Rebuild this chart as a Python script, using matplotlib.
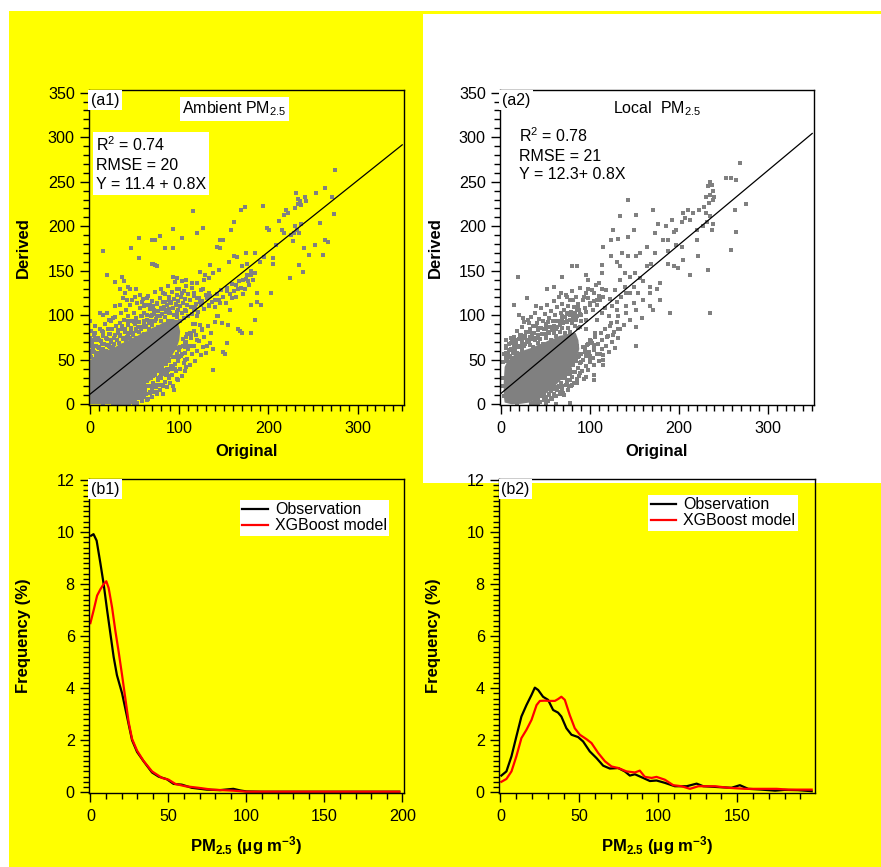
import numpy as np
import matplotlib.pyplot as plt
from matplotlib.patches import Rectangle
from matplotlib.ticker import MultipleLocator

plt.rcParams['font.family'] = ['Liberation Sans', 'DejaVu Sans']
plt.rcParams['mathtext.fontset'] = 'custom'
plt.rcParams['mathtext.rm'] = 'Liberation Sans'
plt.rcParams['mathtext.it'] = 'Liberation Sans:italic'
plt.rcParams['mathtext.bf'] = 'Liberation Sans:bold'

# --- data ---
# (a1) ambient PM2.5: saturated core outline + individual points outside it
a1_core_x = [0, 22, 30, 38, 44, 50, 56, 62, 68, 74, 80, 86, 92, 97, 100, 101, 99, 94, 88, 82,
             76, 70, 64, 58, 52, 46, 40, 34, 28, 22, 16, 10, 5, 0]
a1_core_y = [0, 0, 2, 4, 9, 13, 17, 23, 27, 34, 40, 47, 55, 63, 72, 82, 90, 96, 93, 92,
             88, 86, 82, 80, 76, 74, 70, 68, 64, 62, 58, 56, 52, 50]
a1_pts = [
    # sparse outer points
    (275, 263), (263, 243), (253, 237), (271, 233), (273, 214), (231, 237), (233, 231), (235, 228),
    (233, 225), (237, 224), (230, 220), (241, 233), (242, 228), (220, 218), (222, 215), (218, 213),
    (212, 206), (215, 196), (217, 192), (230, 200), (232, 196), (229, 192), (234, 192), (237, 203),
    (225, 190), (227, 183), (240, 175), (245, 168), (234, 157), (239, 149), (252, 179), (258, 204),
    (263, 185), (267, 182), (261, 168), (224, 142), (198, 198), (201, 196), (208, 179), (205, 164),
    (205, 158), (203, 125), (194, 223), (169, 218), (174, 222), (158, 196), (161, 205), (146, 185),
    (142, 177), (146, 175), (149, 185), (127, 198), (120, 192), (115, 217), (103, 187), (93, 197),
    (84, 176), (93, 175), (70, 184), (73, 185), (78, 189), (55, 187), (46, 176), (15, 172),
    (69, 158), (71, 158), (73, 157), (75, 155), (55, 164), (19, 145), (36, 143), (38, 138),
    (43, 132), (45, 129), (28, 137), (34, 129), (39, 125), (52, 129), (56, 123), (64, 119),
    (93, 143), (97, 142), (108, 140), (114, 136), (123, 149), (129, 145), (133, 142), (135, 157),
    (138, 147), (145, 151), (156, 160), (161, 166), (165, 165), (170, 155), (176, 158), (177, 138),
    (174, 130), (183, 140), (181, 112), (187, 115), (153, 127), (159, 119), (157, 106), (164, 134),
    (166, 129), (166, 84), (170, 80), (153, 69), (149, 59), (151, 57), (138, 39), (131, 65),
    (144, 99), (148, 91), (155, 89), (140, 117), (146, 114), (127, 129), (133, 125), (116, 125),
    (120, 119), (123, 115), (120, 99), (123, 89), (125, 84), (108, 76), (114, 65), (120, 72),
    (107, 50), (108, 42), (93, 20), (99, 27), (82, 20), (73, 22), (93, 42), (86, 35),
    (78, 31), (64, 20), (56, 16), (49, 12), (41, 9), (32, 1), (15, 1), (78, 52),
    (86, 55), (71, 46), (11, 84), (9, 72), (4, 72), (2, 65), (0, 93), (6, 80),
    (15, 100), (19, 102), (21, 95), (26, 97), (11, 102), (28, 110), (34, 112), (37, 119),
    (41, 117), (47, 117), (50, 121), (58, 115), (60, 110), (67, 112), (75, 114), (82, 125),
    (84, 115), (88, 117), (97, 129), (103, 125), (172, 140), (176, 145), (180, 150), (185, 148),
    (190, 160), (195, 165), (185, 170), (175, 170), (187, 125), (192, 112), (185, 95), (180, 80),
    (168, 82), (142, 99), (133, 110), (0, 55), (1, 60), (0, 70), (0, 75), (1, 82),
    # speckle above the core
    (1, 53), (3, 61), (2, 70), (6, 51), (7, 66), (8, 58), (4, 78), (9, 74), (5, 88), (10, 63),
    (11, 56), (12, 71), (13, 82), (14, 62), (15, 77), (16, 68), (17, 90), (18, 60), (19, 73), (20, 85),
    (21, 66), (22, 79), (23, 93), (24, 70), (25, 84), (26, 64), (27, 75), (28, 98), (29, 88), (30, 72),
    (31, 80), (32, 69), (33, 91), (34, 77), (35, 102), (36, 85), (37, 73), (38, 95), (39, 81), (40, 106),
    (41, 76), (42, 89), (43, 99), (44, 80), (45, 111), (46, 86), (47, 94), (48, 78), (49, 103), (50, 90),
    (51, 82), (52, 97), (53, 114), (54, 87), (55, 92), (56, 108), (57, 84), (58, 99), (59, 118), (60, 91),
    (61, 103), (62, 88), (63, 112), (64, 95), (65, 122), (66, 91), (67, 107), (68, 99), (69, 116), (70, 94),
    (71, 110), (72, 101), (73, 126), (74, 96), (75, 113), (76, 105), (77, 99), (78, 119), (79, 108), (80, 130),
    (81, 101), (82, 115), (83, 109), (84, 124), (85, 104), (86, 112), (87, 133), (88, 107), (89, 120), (90, 102),
    (91, 114), (92, 126), (93, 108), (94, 118), (95, 137), (96, 111), (97, 123), (98, 104), (99, 116), (100, 129),
    (101, 110), (102, 121), (103, 139), (104, 114), (105, 127), (106, 106), (107, 118), (108, 133), (109, 112),
    (110, 124), (112, 117), (114, 131), (116, 122), (118, 109), (120, 136), (122, 119), (124, 128), (126, 114),
    (128, 140), (130, 123),
    (1, 53.5), (3, 65), (4, 59), (6, 74), (7, 54), (9, 64), (10, 72.5), (12, 60), (13, 68), (15, 81),
    (16, 59), (18, 74), (19, 67), (21, 79.5), (22, 64), (24, 72), (25, 84), (27, 68), (28, 78), (30, 72.5),
    (31, 83), (33, 65), (34, 78), (36, 88), (37, 74), (39, 85), (40, 71), (42, 79), (43, 94), (45, 75),
    (46, 85), (48, 80), (49, 92), (51, 74), (52, 85), (54, 92), (55, 81), (57, 99), (58, 87), (60, 79),
    (61, 93.5), (63, 87), (64, 100), (66, 84), (67, 93), (69, 100), (70, 88.5), (72, 106), (73, 93), (75, 99),
    (76, 87), (78, 99), (79, 93), (81, 107.5), (82, 88), (84, 98), (85, 106), (87, 94), (88, 102), (90, 114.5),
    (91, 93), (93, 108), (94, 100), (96, 113), (97, 98), (99, 106),
    # speckle below the core
    (26, 1), (28, 4), (29, 0.5), (31, 2), (33, 6), (34, 1), (36, 8), (35, 3),
    (37, 5), (38, 1), (39, 10), (40, 3), (41, 7), (42, 13), (43, 2), (44, 9), (45, 5),
    (46, 14), (47, 8), (48, 3), (49, 11), (50, 6), (51, 17), (52, 9), (53, 2), (54, 13), (55, 7),
    (56, 19), (57, 11), (58, 4), (59, 15), (60, 22), (61, 9), (62, 17), (63, 12), (64, 26), (65, 6),
    (66, 20), (67, 13), (68, 29), (69, 17), (70, 8), (71, 24), (72, 14), (73, 33), (74, 19), (75, 11),
    (76, 27), (77, 37), (78, 16), (79, 30), (80, 22), (81, 41), (82, 12), (83, 34), (84, 25), (85, 45),
    (86, 19), (87, 38), (88, 29), (89, 49), (90, 24), (91, 42), (92, 33), (93, 53), (94, 16), (95, 45),
    (96, 37), (97, 57), (98, 28), (99, 49), (100, 61), (101, 40), (102, 54), (103, 32), (104, 66), (105, 46),
    (106, 58), (107, 37), (108, 70), (109, 51), (110, 62), (112, 44), (113, 74), (114, 56), (116, 66),
    (118, 49), (119, 78), (120, 60), (122, 71), (124, 55), (125, 83), (127, 64), (128, 76), (130, 58),
    (132, 88), (134, 69), (136, 80), (138, 62), (140, 92),
    (40, 3.2), (41, 0.5), (43, 3.3), (44, 0.5), (46, 9.4), (47, 5), (49, 1.2), (50, 10), (52, 7.3), (53, 1.1),
    (55, 15.8), (56, 8.4), (58, 14.7), (59, 8.5), (61, 18.4), (62, 13.1), (64, 4.3), (65, 20.6), (67, 14),
    (68, 20.4), (70, 13.4), (71, 31.5), (73, 21.3), (74, 14.2), (76, 29.7), (77, 21.7), (79, 36.8), (80, 31.5),
    (82, 20), (83, 39), (85, 33.4), (86, 39.8), (88, 32), (89, 50.1), (91, 43.2), (92, 39.3), (94, 52.6),
    (95, 39.3), (97, 53.1), (98, 63.2), (100, 53.6), (101, 63.9), (103, 56.1), (104, 73.4), (106, 68.3),
    (107, 64.9), (109, 78.7), (110, 65.4), (112, 80), (113, 77.5), (115, 90.3), (116, 82.4), (118, 90.7),
    # cloud continuing along the fit line
    (96, 92), (98, 99), (101, 94), (103, 102), (105, 97), (108, 105), (110, 99), (113, 109), (114, 101),
    (117, 106), (119, 113), (121, 104), (124, 111), (126, 116), (128, 107), (131, 119), (133, 112),
    (135, 122), (137, 115), (140, 109), (142, 124), (145, 117), (147, 128), (149, 121), (152, 114),
    (154, 131), (157, 124), (159, 135), (161, 127), (164, 120), (167, 138), (169, 131), (172, 124),
    (175, 141), (178, 134), (181, 145),
]
a1_fit = (11.4, 0.8)

# (a2) local PM2.5
a2_core_x = [4, 12, 22, 32, 40, 48, 55, 62, 68, 74, 80, 85, 88, 87, 84, 78, 72, 66, 60, 54,
             48, 42, 36, 30, 24, 18, 12, 7, 4, 3, 3]
a2_core_y = [2, 0, 0.5, 2, 6, 10, 16, 22, 28, 35, 42, 52, 62, 72, 80, 80, 78, 77, 74, 72,
             69, 67, 64, 62, 60, 58, 53, 48, 42, 25, 10]
a2_pts = [
    # sparse outer points
    (269, 271), (253, 254), (259, 254), (264, 252), (275, 225), (263, 218), (264, 193), (259, 173),
    (235, 250), (237, 246), (233, 245), (238, 239), (240, 233), (235, 235), (231, 233), (238, 230),
    (234, 226), (228, 222), (223, 218), (230, 215), (235, 211), (232, 205), (238, 203), (227, 200),
    (237, 196), (220, 196), (216, 215), (210, 218), (212, 207), (207, 209), (205, 215), (203, 205),
    (197, 196), (194, 194), (192, 207), (222, 166), (233, 151), (235, 102), (220, 185), (213, 145),
    (205, 162), (199, 153), (194, 155), (188, 158), (203, 177), (197, 179), (188, 185), (190, 102),
    (179, 117), (171, 218), (177, 202), (173, 192), (186, 200), (182, 185), (188, 172), (143, 230),
    (152, 213), (149, 196), (143, 188), (134, 211), (126, 196), (124, 185), (132, 186), (136, 170),
    (143, 166), (152, 166), (156, 170), (164, 177), (169, 158), (173, 170), (115, 177), (114, 157),
    (113, 147), (124, 166), (130, 160), (134, 155), (139, 147), (145, 143), (151, 147), (156, 142),
    (164, 155), (160, 138), (134, 140), (139, 132), (141, 125), (149, 132), (154, 125), (160, 117),
    (167, 125), (149, 114), (152, 106), (158, 97), (152, 87), (145, 95), (141, 102), (138, 89),
    (132, 99), (167, 110), (171, 106), (175, 129), (179, 136), (167, 132), (152, 65), (115, 44),
    (104, 27), (80, 155), (85, 155), (96, 145), (98, 140), (68, 143), (59, 132), (52, 129),
    (29, 119), (39, 110), (19, 143), (14, 112), (20, 100), (25, 97), (31, 91), (5, 72),
    (11, 69), (67, 125), (74, 121), (81, 117), (87, 110), (93, 121), (98, 129), (104, 125),
    (110, 136), (113, 130), (108, 117), (100, 114), (115, 121), (3, 9), (9, 5), (18, 1),
    (39, 3), (59, 9), (78, 1), (67, 20), (74, 27), (85, 24), (89, 35), (96, 31),
    (104, 33), (100, 50), (89, 57), (85, 65), (104, 61), (111, 57), (115, 50), (100, 72),
    (106, 80), (96, 84), (89, 87), (81, 95), (74, 102), (85, 106), (96, 95), (108, 95),
    (113, 102), (117, 108), (111, 117), (119, 76), (126, 78), (132, 84), (124, 91), (121, 99),
    (130, 106), (2, 30), (2, 20), (125, 110), (122, 118), (128, 128), (118, 128), (130, 115),
    (135, 120), (140, 110), (145, 125),
    # speckle above the core
    (2, 48), (3, 57), (5, 52), (6, 63), (7, 49), (8, 58), (9, 68), (10, 54),
    (11, 62), (12, 71), (13, 58), (14, 66), (15, 76), (16, 61), (17, 69), (18, 82), (19, 64), (20, 73),
    (21, 66), (22, 78), (23, 87), (24, 69), (25, 75), (26, 92), (27, 68), (28, 81), (29, 72), (30, 95),
    (31, 70), (32, 84), (33, 76), (34, 98), (35, 73), (36, 88), (37, 80), (38, 103), (39, 75), (40, 91),
    (41, 83), (42, 77), (43, 96), (44, 86), (45, 108), (46, 79), (47, 93), (48, 84), (49, 101), (50, 78),
    (51, 90), (52, 112), (53, 81), (54, 97), (55, 87), (56, 105), (57, 83), (58, 94), (59, 116), (60, 88),
    (61, 100), (62, 85), (63, 109), (64, 93), (65, 120), (66, 89), (67, 103), (68, 96), (69, 113), (70, 91),
    (71, 106), (72, 98), (73, 123), (74, 93), (75, 110), (76, 101), (77, 95), (78, 117), (79, 104), (80, 127),
    (81, 96), (82, 109), (83, 102), (84, 120), (85, 99), (86, 113), (88, 106), (89, 131), (90, 100),
    (92, 117), (94, 108), (95, 125), (96, 104), (98, 119), (100, 111), (102, 128), (103, 106), (105, 116),
    (107, 134), (108, 112), (110, 122),
    (5, 57.3), (6, 65.7), (8, 53.6), (9, 61), (11, 74), (12, 52.4), (14, 67.3), (15, 59.8), (17, 72.7),
    (18, 57.1), (20, 65), (21, 77.5), (23, 61.4), (24, 70.8), (26, 65.7), (27, 76.2), (29, 58), (30, 71.5),
    (32, 81.4), (33, 66.9), (35, 77.8), (36, 64.2), (38, 72.1), (39, 87.6), (41, 68.5), (42, 77.9),
    (44, 72.8), (45, 85.3), (47, 67.2), (48, 78.6), (50, 85.5), (51, 74), (53, 91.9), (54, 80.3),
    (56, 72.2), (57, 86.7), (59, 80.6), (60, 93), (62, 76.9), (63, 86.4), (65, 93.3), (66, 81.7),
    (68, 99.6), (69, 86), (71, 92), (72, 80.4), (74, 92.3), (75, 85.8), (77, 100.7), (78, 81.1),
    (80, 91), (81, 99.5), (83, 87.4), (84, 94.8), (86, 107.7), (87, 86.2), (89, 101), (90, 93.5),
    # speckle below the core
    (36, 1), (38, 4), (40, 2), (42, 7), (44, 3), (46, 9), (48, 5), (50, 2),
    (51, 8), (53, 4), (54, 11), (56, 15), (57, 6), (59, 12), (60, 19), (62, 9), (63, 16), (65, 21),
    (66, 12), (67, 24), (69, 17), (70, 29), (71, 10), (73, 22), (74, 34), (75, 16), (77, 27), (78, 38),
    (79, 20), (80, 31), (81, 44), (82, 24), (83, 36), (84, 49), (85, 28), (86, 41), (87, 53), (88, 32),
    (89, 46), (90, 57), (91, 37), (92, 50), (93, 28), (94, 62), (95, 43), (96, 54), (97, 67), (98, 39),
    (99, 59), (100, 48), (101, 71), (103, 52), (104, 64), (105, 44), (106, 76), (108, 57), (109, 68),
    (110, 49), (112, 80), (113, 62), (114, 72), (115, 55), (117, 84), (118, 66), (120, 77), (121, 59),
    (123, 88), (125, 70), (127, 81), (128, 63), (130, 92), (132, 74), (134, 85),
    (34, 0.6), (36, 0.5), (40, 2.4), (42, 0.5), (44, 2.6), (48, 10), (50, 3.9), (54, 10.8), (56, 6.8),
    (58, 16.8), (60, 11.3), (62, 0.5), (64, 19.5), (66, 13.4), (68, 20.8), (70, 12.3), (72, 31.8),
    (74, 24.2), (76, 21.1), (78, 34.3), (80, 21.3), (82, 36.1), (84, 48.2), (86, 40.6), (88, 53.9),
    (90, 47.1), (92, 64.4), (94, 58.3), (96, 54.9), (98, 67.7), (100, 54.4), (102, 69), (104, 66.5),
]
a2_fit = (12.3, 0.834)

# (b1) frequency distributions, ambient
b1_obs_x = [0.4, 2, 4, 6.4, 8.5, 10.7, 12.8, 14.9, 17, 20.3, 23.5, 26.7, 29.9, 34.1, 39.5,
            43.7, 49, 53.3, 58.6, 65, 74.6, 83, 91.6, 95.9, 100, 110, 130, 160, 198]
b1_obs_y = [9.86, 9.92, 9.67, 8.8, 8.0, 7.0, 6.1, 5.2, 4.5, 3.8, 2.9, 2.0, 1.55, 1.19, 0.76,
            0.6, 0.5, 0.32, 0.29, 0.17, 0.1, 0.08, 0.13, 0.07, 0.03, 0.02, 0.02, 0.02, 0.02]
b1_mod_x = [0, 2.1, 4.3, 6.4, 8.5, 10.2, 11.7, 13.9, 16, 18.1, 20.3, 22.4, 24.5, 26.7, 29.9,
            34.1, 39.5, 45.9, 50.2, 54.4, 60.8, 69.3, 77.8, 91.6, 100, 130, 198]
b1_mod_y = [6.5, 7.0, 7.56, 7.8, 8.0, 8.11, 7.85, 7.1, 6.2, 5.4, 4.5, 3.6, 2.7, 2.05, 1.6,
            1.2, 0.8, 0.55, 0.48, 0.32, 0.23, 0.17, 0.1, 0.06, 0.02, 0.02, 0.02]

# (b2) frequency distributions, local
b2_obs_x = [0.6, 3.8, 7, 10.1, 13.3, 16.5, 19.7, 21.8, 23.9, 27, 30.2, 33.4, 36.5, 38.6, 41.8,
            45, 49.2, 52.4, 56.6, 60.9, 65.1, 69.3, 74.6, 78.8, 82, 85.2, 90.4, 94.7, 98.9, 104.2,
            110.5, 118, 124.3, 128.5, 140.1, 146.4, 151.7, 157, 165.5, 174, 180, 188.5, 197.2]
b2_obs_y = [0.64, 0.8, 1.38, 2.14, 2.91, 3.35, 3.74, 4.02, 3.93, 3.67, 3.55, 3.16, 3.06, 2.91, 2.46,
            2.21, 2.12, 1.95, 1.57, 1.31, 1.02, 0.91, 0.93, 0.8, 0.64, 0.69, 0.55, 0.43, 0.45, 0.36,
            0.23, 0.23, 0.33, 0.23, 0.19, 0.17, 0.27, 0.13, 0.1, 0.06, 0.09, 0.08, 0.04]
b2_mod_x = [0.6, 3.8, 7, 10.1, 13.3, 16.5, 19.7, 22.9, 25, 28.1, 31.3, 34.5, 36.5, 38.6, 40.8,
            43.9, 47.1, 50.3, 54.5, 57.7, 61.9, 66.2, 70.4, 74.6, 79.9, 85.2, 88.3, 91.5, 95.8, 98.9,
            104.2, 109.5, 114.8, 120.1, 125.4, 136, 144.4, 155, 165.5, 175, 182.4, 197.2]
b2_mod_y = [0.4, 0.51, 0.8, 1.38, 2.08, 2.4, 2.78, 3.35, 3.51, 3.52, 3.51, 3.51, 3.58, 3.67, 3.55,
            2.97, 2.46, 2.21, 2.04, 1.89, 1.51, 1.19, 0.99, 0.93, 0.8, 0.76, 0.83, 0.59, 0.55, 0.59,
            0.48, 0.27, 0.23, 0.13, 0.23, 0.23, 0.17, 0.13, 0.13, 0.13, 0.1, 0.1]

YELLOW = '#ffff00'
GRAY = '#808080'

fig = plt.figure(figsize=(8.81, 8.67), dpi=100)
fig.patch.set_facecolor('white')
W, H = 881.0, 867.0
# page background: yellow everywhere except a white block behind (a2)
fig.patches.append(Rectangle((9 / W, 0), 1, (H - 11) / H, transform=fig.transFigure,
                             facecolor=YELLOW, edgecolor='none', zorder=-10))
fig.patches.append(Rectangle((423 / W, (H - 483) / H), 1, (483 - 14) / H, transform=fig.transFigure,
                             facecolor='white', edgecolor='none', zorder=-9))


def make_axes(l, t, w, h):
    return fig.add_axes([l / W, 1 - (t + h) / H, w / W, h / H])


def style(ax, xlim, ylim, xmaj, xmin, ymaj, ymin):
    ax.set_facecolor('none')
    ax.set_xlim(xlim)
    ax.set_ylim(ylim)
    ax.xaxis.set_major_locator(MultipleLocator(xmaj))
    ax.xaxis.set_minor_locator(MultipleLocator(xmin))
    ax.yaxis.set_major_locator(MultipleLocator(ymaj))
    ax.yaxis.set_minor_locator(MultipleLocator(ymin))
    ax.tick_params(which='both', direction='out', top=False, right=False,
                   labelsize=11.6, width=1, color='black')
    ax.tick_params(which='major', length=6.2)
    ax.tick_params(which='minor', length=4)
    ax.tick_params(axis='x', pad=5.5)
    ax.tick_params(axis='y', pad=4)
    for s in ax.spines.values():
        s.set_linewidth(1)


def boxed(ax, x, y, s, **kw):
    ax.text(x, y, s, transform=ax.transAxes, fontsize=11.5,
            bbox=dict(boxstyle='square,pad=0.15', facecolor='white', edgecolor='none'), **kw)


def scatter_panel(ax, core_x, core_y, pts, fit, tag, title, title_x, stats, stats_x, stats_y):
    style(ax, (-1.2, 352), (-0.8, 353), 100, 10, 50, 10)
    ax.fill(core_x, core_y, color=GRAY, lw=0, zorder=1)
    p = np.array(pts, dtype=float)
    ax.scatter(p[:, 0], p[:, 1], s=5, marker='s', color=GRAY, linewidths=0,
               antialiased=False, zorder=2)
    fx = np.array([0, 350])
    ax.plot(fx, fit[0] + fit[1] * fx, color='black', lw=0.9, zorder=3)
    boxed(ax, 0.006, 0.992, tag, va='top', ha='left')
    boxed(ax, title_x, 0.94, title, va='center', ha='left')
    ax.text(stats_x, stats_y, stats, transform=ax.transAxes, fontsize=11.5, va='top', ha='left',
            linespacing=1.3,
            bbox=dict(boxstyle='square,pad=0.2', facecolor='white', edgecolor='none'))
    ax.set_ylabel('Derived', fontsize=12, fontweight='bold')
    ax.set_xlabel('Original', fontsize=12, fontweight='bold')
    ax.yaxis.set_label_coords(-0.183, 0.5)
    ax.xaxis.set_label_coords(0.5, -0.125)


def freq_panel(ax, xlim, ox, oy, mx, my, tag, leg_anchor):
    style(ax, xlim, (-0.03, 12.04), 50, 10, 2, 0.2)
    ax.plot(ox, oy, color='black', lw=1.6, label='Observation')
    ax.plot(mx, my, color='#ff0000', lw=1.6, label='XGBoost model')
    boxed(ax, 0.006, 0.992, tag, va='top', ha='left')
    leg = ax.legend(loc='upper left', bbox_to_anchor=leg_anchor, fontsize=11.5, frameon=True,
                    fancybox=False, borderpad=0.15, borderaxespad=0, handlelength=1.6,
                    handletextpad=0.45, labelspacing=0.05)
    leg.get_frame().set_facecolor('white')
    leg.get_frame().set_edgecolor('none')
    leg.get_frame().set_alpha(1)
    ax.set_ylabel('Frequency (%)', fontsize=12, fontweight='bold')
    ax.set_xlabel(r'PM$_{\mathbf{2.5}}$ ($\mathbf{\mu}$g m$^{\mathbf{-3}}$)', fontsize=12, fontweight='bold')
    ax.yaxis.set_label_coords(-0.183, 0.5)
    ax.xaxis.set_label_coords(0.5, -0.13)


a1 = make_axes(89, 90, 315, 315)
scatter_panel(a1, a1_core_x, a1_core_y, a1_pts, a1_fit, '(a1)', r'Ambient PM$_{2.5}$', 0.296,
              'R$^2$ = 0.74\nRMSE = 20\nY = 11.4 + 0.8X', 0.022, 0.855)

a2 = make_axes(500, 90, 314, 315)
scatter_panel(a2, a2_core_x, a2_core_y, a2_pts, a2_fit, '(a2)', r'Local  PM$_{2.5}$', 0.36,
              'R$^2$ = 0.78\nRMSE = 21\nY = 12.3+ 0.8X', 0.06, 0.885)

b1 = make_axes(89, 479, 315, 314)
freq_panel(b1, (-0.9, 201), b1_obs_x, b1_obs_y, b1_mod_x, b1_mod_y, '(b1)', (0.479, 0.933))

b2 = make_axes(499, 479, 316, 314)
freq_panel(b2, (-0.9, 199.3), b2_obs_x, b2_obs_y, b2_mod_x, b2_mod_y, '(b2)', (0.472, 0.949))

fig.savefig('out.png', dpi=100, facecolor=fig.get_facecolor())
